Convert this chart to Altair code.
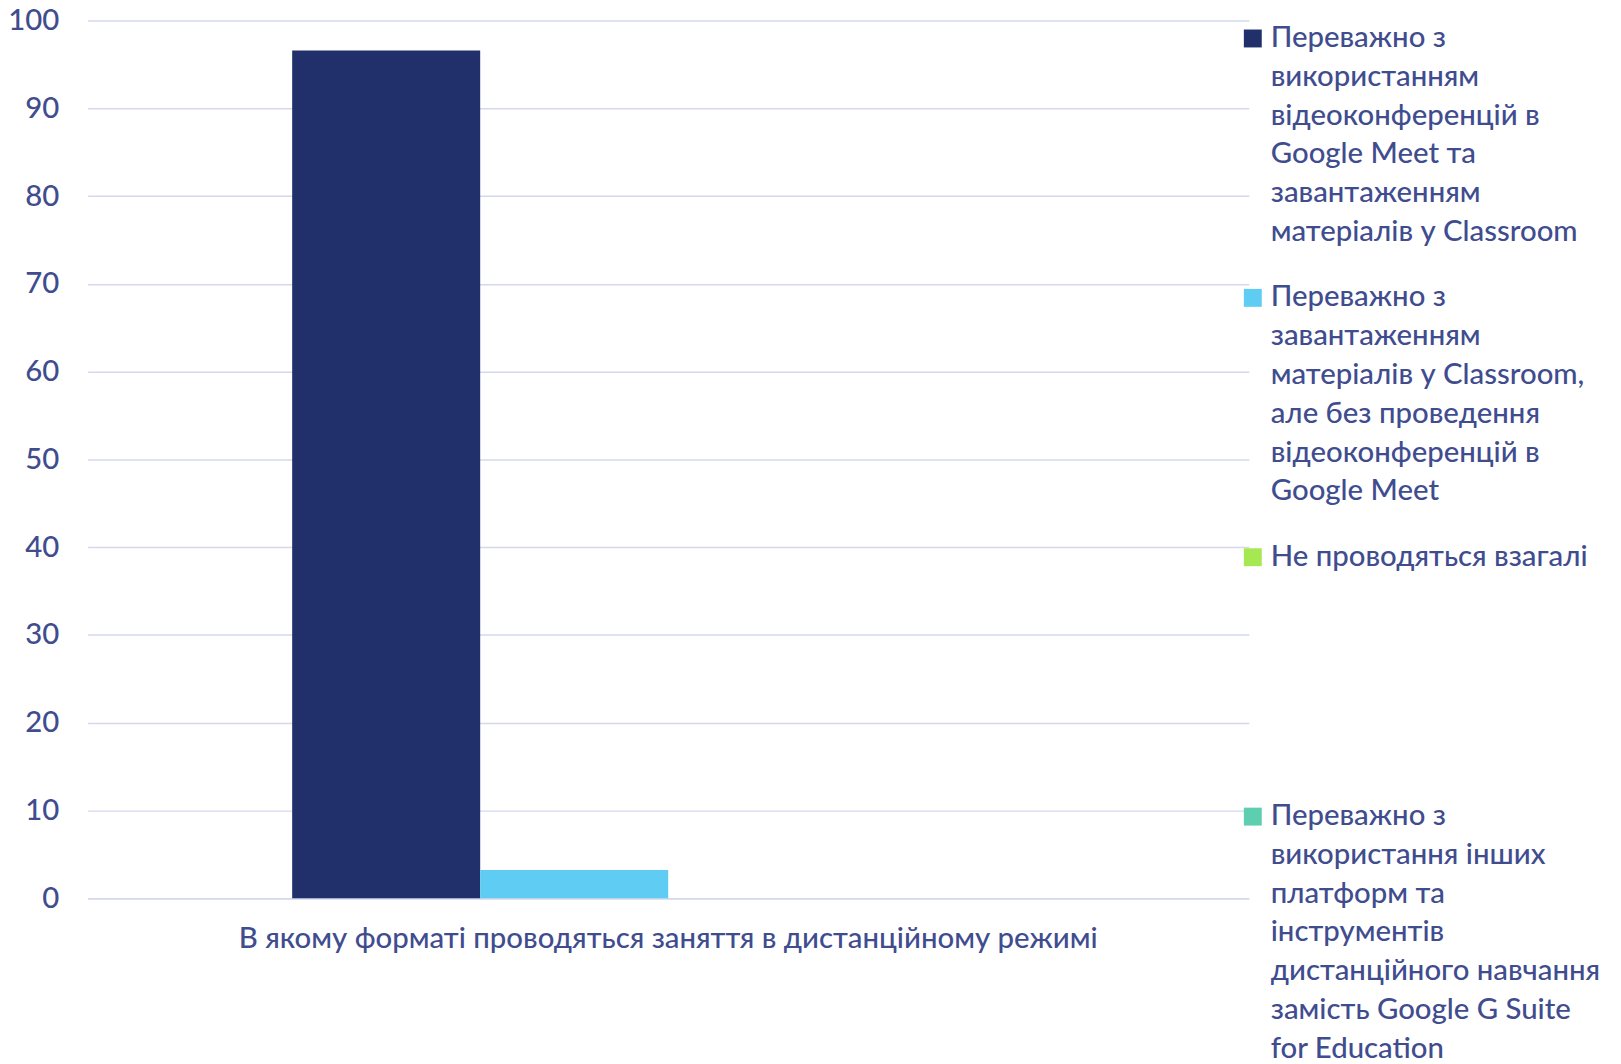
import altair as alt
import pandas as pd

category = ["В якому форматі проводяться заняття в дистанційному режимі"]
series = [
    "Переважно з використанням відеоконференцій в Google Meet та завантаженням матеріалів у Classroom",
    "Переважно з завантаженням матеріалів у Classroom, але без проведення відеоконференцій в Google Meet",
    "Не проводяться взагалі",
    "Переважно з використання інших платформ та інструментів дистанційного навчання замість Google G Suite for Education",
]
values = [96.6, 3.2, 0.0, 0.0]
legend_labels = [
    "Переважно з\nвикористанням\nвідеоконференцій в\nGoogle Meet та\nзавантаженням\nматеріалів у Classroom",
    "Переважно з\nзавантаженням\nматеріалів у Classroom,\nале без проведення\nвідеоконференцій в\nGoogle Meet",
    "Не проводяться взагалі",
    "Переважно з\nвикористання інших\nплатформ та\nінструментів\nдистанційного навчання\nзамість Google G Suite\nfor Education",
]
colors = ["#21306A", "#5ECCF3", "#A6E852", "#5DCFB0"]
y_ticks = list(range(0, 101, 10))

FONT = "Lato"
FONT_SIZE = 29.5
FONT_WEIGHT = 500
TEXT_COLOR = "#3F4D8F"
GRID_COLOR = "#D5D8EC"

df = pd.DataFrame({
    "category": category * len(series),
    "series": series,
    "value": values,
    "label": legend_labels,
})

color = alt.Color("series:N", sort=series,
                  scale=alt.Scale(domain=series, range=colors), legend=None)

bars = alt.Chart(df).mark_bar().encode(
    x=alt.X("category:N",
            scale=alt.Scale(paddingInner=0, paddingOuter=0.272),
            axis=alt.Axis(title=None, labelAngle=0, ticks=False, tickSize=0,
                          labelPadding=41, labelBaseline="middle", labelLimit=0,
                          domainColor=GRID_COLOR, domainWidth=1.5)),
    xOffset=alt.XOffset("series:N", sort=series,
                        scale=alt.Scale(paddingInner=0, paddingOuter=0)),
    y=alt.Y("value:Q", scale=alt.Scale(domain=[0, 100], nice=False),
            axis=alt.Axis(values=y_ticks, title=None, domain=False, ticks=False,
                          labelPadding=29, gridColor=GRID_COLOR, gridWidth=1.5)),
    color=color,
)

leg_y = alt.Y("series:N", sort=series,
              scale=alt.Scale(type="point", range=[18, 800], padding=0),
              axis=None)

leg_sq = alt.Chart(df).mark_square(size=324, opacity=1).encode(
    x=alt.value(1171),
    y=leg_y,
    color=color,
)

leg_txt = alt.Chart(df).mark_text(
    align="left", baseline="line-top", dy=-19.5, lineBreak="\n",
    lineHeight=39, fontSize=FONT_SIZE, font=FONT, fontWeight=FONT_WEIGHT,
    color=TEXT_COLOR,
).encode(
    x=alt.value(1189),
    y=leg_y,
    text="label:N",
)

chart = alt.layer(bars, leg_sq, leg_txt).resolve_scale(
    y="independent"
).properties(
    width=1167, height=882,
    autosize=alt.AutoSizeParams(type="none"),
    padding={"left": 80, "top": 10, "right": 366, "bottom": 164},
    background="white",
).configure_view(stroke=None).configure_axis(
    labelFont=FONT, labelFontSize=FONT_SIZE, labelFontWeight=FONT_WEIGHT,
    labelColor=TEXT_COLOR,
)

chart.save("out.html", embed_options={"renderer": "svg", "actions": False})
